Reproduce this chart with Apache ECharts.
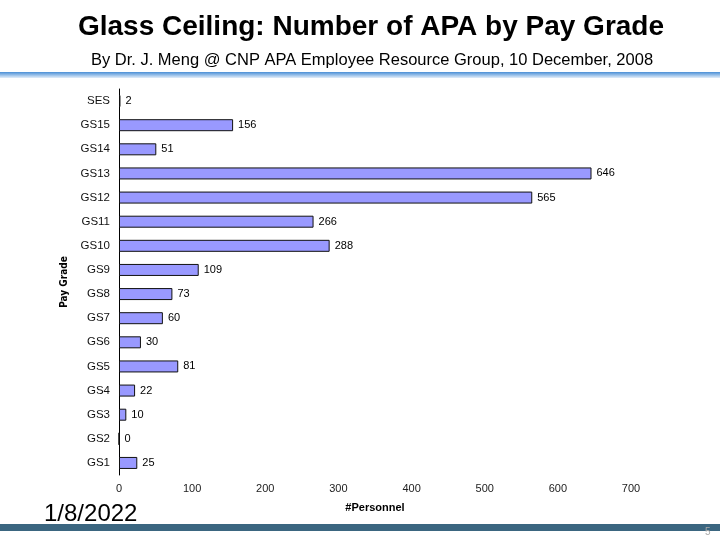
<!DOCTYPE html>
<html>
<head>
<meta charset="utf-8">
<script src="https://cdn.jsdelivr.net/npm/echarts@6/dist/echarts.min.js"></script>
<style>
html, body { margin: 0; padding: 0; background: #fff; }
#main { width: 720px; height: 540px; }
</style>
</head>
<body>
<div id="main"></div>
<script>
// pay grades, top to bottom as in the slide
var grades = ['SES', 'GS15', 'GS14', 'GS13', 'GS12', 'GS11', 'GS10', 'GS9',
              'GS8', 'GS7', 'GS6', 'GS5', 'GS4', 'GS3', 'GS2', 'GS1'];
var personnel = [2, 156, 51, 646, 565, 266, 288, 109, 73, 60, 30, 81, 22, 10, 0, 25];
var xTicks = [0, 100, 200, 300, 400, 500, 600, 700];

var chart = echarts.init(document.getElementById('main'));

var option = {
    animation: false,
    backgroundColor: '#fff',
    title: [{
        text: 'Glass Ceiling: Number of APA by Pay Grade',
        left: 366, top: 8, textAlign: 'center',
        textStyle: { fontFamily: 'Liberation Sans', fontSize: 28, fontWeight: 'bold', color: '#000' }
    }, {
        text: 'By Dr. J. Meng @ CNP APA Employee Resource Group, 10 December, 2008',
        left: 367, top: 47, textAlign: 'center',
        textStyle: { fontFamily: 'Liberation Sans', fontSize: 16.5, fontWeight: 'normal', color: '#000' }
    }],
    grid: { left: 119, right: 89, top: 89, bottom: 65 },
    xAxis: {
        type: 'value',
        min: xTicks[0], max: xTicks[xTicks.length - 1], interval: 100,
        name: '#Personnel',
        nameLocation: 'middle',
        nameGap: 27,
        nameTextStyle: { fontFamily: 'Liberation Sans', fontSize: 11, fontWeight: 'bold', color: '#000' },
        axisLine: { show: false },
        axisTick: { show: false },
        splitLine: { show: false },
        axisLabel: { fontFamily: 'Liberation Sans', fontSize: 11, color: '#222', margin: 8 }
    },
    yAxis: {
        type: 'category',
        data: grades,
        inverse: true,
        name: 'Pay Grade',
        nameLocation: 'middle',
        nameGap: 50,
        nameRotate: 90,
        nameTextStyle: { fontFamily: 'DejaVu Sans Condensed', fontSize: 10, fontWeight: 'bold', color: '#000' },
        axisLine: { show: true, lineStyle: { color: '#000', width: 1 } },
        axisTick: { show: false },
        axisLabel: { fontFamily: 'Liberation Sans', fontSize: 11.5, color: '#111', margin: 9 }
    },
    series: [{
        type: 'bar',
        data: personnel,
        barWidth: 12,
        itemStyle: { color: '#9999ff', borderColor: '#111', borderWidth: 1 },
        label: {
            show: true,
            position: 'right',
            distance: 5,
            fontFamily: 'Liberation Sans',
            fontSize: 11,
            color: '#000'
        }
    }],
    graphic: [{
        type: 'rect',
        shape: { x: 0, y: 72, width: 720, height: 6 },
        style: {
            fill: new echarts.graphic.LinearGradient(0, 0, 0, 1, [
                { offset: 0, color: '#4a8fd6' },
                { offset: 1, color: '#e3eefa' }
            ])
        },
        silent: true
    }, {
        type: 'rect',
        shape: { x: 0, y: 524, width: 720, height: 7 },
        style: { fill: '#3b6680' },
        silent: true
    }, {
        type: 'text',
        left: 44, top: 502,
        style: { text: '1/8/2022', fontFamily: 'Liberation Sans', fontSize: 24, fill: '#000' }
    }, {
        type: 'text',
        left: 705, top: 527,
        style: { text: '5', fontFamily: 'Liberation Sans', fontSize: 10, fill: '#aaa' }
    }]
};

chart.setOption(option);
</script>
</body>
</html>
